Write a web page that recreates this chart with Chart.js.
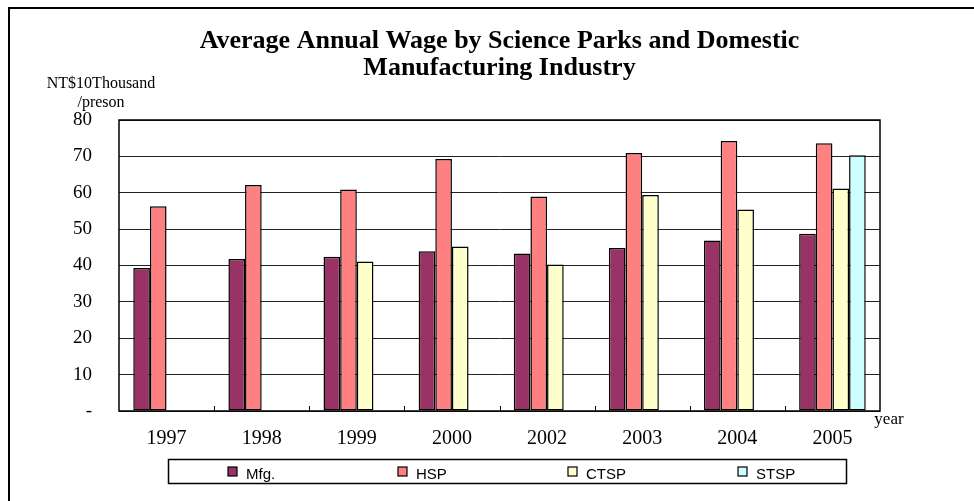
<!DOCTYPE html>
<html>
<head>
<meta charset="utf-8">
<script src="https://cdn.jsdelivr.net/npm/chart.js@4.4.1/dist/chart.umd.min.js"></script>
<style>
  html, body { margin: 0; padding: 0; background: #fff; }
  #wrap { width: 974px; height: 501px; }
</style>
</head>
<body>
<div id="wrap"><canvas id="chart" width="974" height="501"></canvas></div>
<script>
const years = ['1997', '1998', '1999', '2000', '2002', '2003', '2004', '2005'];
const mfg  = [39.3, 41.8, 42.4, 43.9, 43.3, 44.8, 46.9, 48.7];
const hsp  = [56.3, 62.1, 60.9, 69.3, 59.0, 70.9, 74.2, 73.6];
const ctsp = [null, null, 41.1, 45.2, 40.3, 59.4, 55.4, 61.2];
const stsp = [null, null, null, null, null, null, null, 70.3];
const seriesNames = ['Mfg.', 'HSP', 'CTSP', 'STSP'];
const seriesColors = ['#993366', '#FF8080', '#FFFFCC', '#CCFFFF'];
const yTicks = [0, 10, 20, 30, 40, 50, 60, 70, 80];

const serif = "'Liberation Serif', 'Times New Roman', serif";
const sans = "'Liberation Sans', Arial, sans-serif";

// frame, plot border, inner x ticks, axis captions and the boxed legend
const decorations = {
    id: 'decorations',
    beforeDraw(chart) {
        const ctx = chart.ctx;
        ctx.save();
        ctx.fillStyle = '#fff';
        ctx.fillRect(0, 0, chart.width, chart.height);
        ctx.restore();
    },
    afterDatasetsDraw(chart) {
        const { ctx, chartArea: a, scales: { x } } = chart;
        ctx.save();
        ctx.strokeStyle = '#000';
        ctx.lineWidth = 1;
        for (let i = 1; i < years.length; i++) {
            const px = Math.round((x.getPixelForValue(i - 1) + x.getPixelForValue(i)) / 2) + 0.5;
            ctx.beginPath();
            ctx.moveTo(px, a.bottom);
            ctx.lineTo(px, a.bottom - 5);
            ctx.stroke();
        }
        ctx.lineWidth = 1.5;
        ctx.strokeRect(a.left, a.top, a.right - a.left, a.bottom - a.top);
        ctx.restore();
    },
    afterDraw(chart) {
        const { ctx, chartArea: a } = chart;
        ctx.save();
        // outer frame
        ctx.strokeStyle = '#000';
        ctx.lineWidth = 2;
        ctx.strokeRect(9, 8, 1200, 1200);

        // y axis caption
        ctx.fillStyle = '#000';
        ctx.font = '16px ' + serif;
        ctx.textAlign = 'center';
        ctx.textBaseline = 'middle';
        ctx.fillText('NT$10Thousand', a.left - 18, a.top - 36);
        ctx.fillText('/preson', a.left - 18, a.top - 17);

        // x axis caption
        ctx.font = '17px ' + serif;
        ctx.fillText('year', a.right + 9, a.bottom + 9);

        // legend
        const lx = 168, ly = 459, lw = 678, lh = 24;
        ctx.lineWidth = 1.5;
        ctx.strokeRect(lx + 0.5, ly + 0.5, lw, lh);
        ctx.font = '15px ' + sans;
        ctx.textAlign = 'left';
        seriesNames.forEach((name, i) => {
            const sx = lx + 60 + i * 170;
            ctx.fillStyle = seriesColors[i];
            ctx.fillRect(sx, ly + 8, 9, 9);
            ctx.lineWidth = 1.2;
            ctx.strokeStyle = '#000';
            ctx.strokeRect(sx, ly + 8, 9, 9);
            ctx.fillStyle = '#000';
            ctx.fillText(name, sx + 18, ly + 16);
        });
        ctx.restore();
    }
};

new Chart(document.getElementById('chart'), {
    type: 'bar',
    data: {
        labels: years,
        datasets: [mfg, hsp, ctsp, stsp].map((d, i) => ({
            label: seriesNames[i],
            data: d,
            backgroundColor: seriesColors[i],
            borderColor: '#000',
            borderWidth: 1.5,
            borderSkipped: false,
            categoryPercentage: 0.70,
            barPercentage: 1.0,
        })),
    },
    options: {
        responsive: false,
        animation: false,
        layout: { padding: { top: 0, left: 9, right: 94, bottom: 50 } },
        plugins: {
            legend: { display: false },
            tooltip: { enabled: false },
            title: {
                display: true,
                fullSize: false,
                text: ['Average Annual Wage by Science Parks and Domestic', 'Manufacturing Industry'],
                color: '#000',
                font: { family: serif, size: 26, weight: 'bold', lineHeight: '27px' },
                padding: { top: 27.5, bottom: 38.5 },
            },
        },
        scales: {
            x: {
                grid: { display: false, drawTicks: false },
                border: { display: false },
                ticks: { color: '#000', font: { family: serif, size: 20 }, padding: 16 },
                afterFit(scale) { scale.height = 40; },
            },
            y: {
                min: yTicks[0],
                max: yTicks[yTicks.length - 1],
                afterBuildTicks(scale) { scale.ticks = yTicks.map(v => ({ value: v })); },
                grid: { color: '#222', lineWidth: 1, drawTicks: false },
                border: { display: false },
                ticks: {
                    color: '#000',
                    font: { family: serif, size: 19 },
                    padding: 27,
                    callback: v => (v === 0 ? '-' : v),
                },
                afterFit(scale) { scale.width = 110; },
            },
        },
    },
    plugins: [decorations],
});
</script>
</body>
</html>
